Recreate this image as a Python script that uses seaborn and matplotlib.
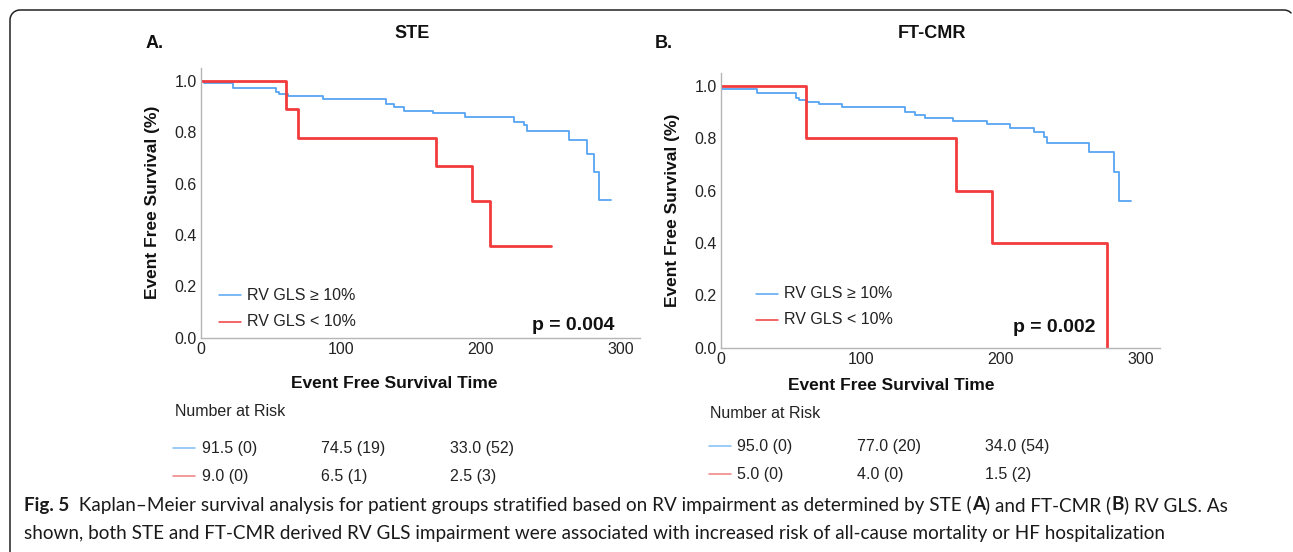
import numpy as np
import pandas as pd
import matplotlib
matplotlib.use("Agg")
import matplotlib.pyplot as plt
import seaborn as sns
from matplotlib.lines import Line2D

### Kaplan-Meier step data

# Panel A (STE)
ste_hi_time = [0, 2, 23, 54, 56, 62, 87, 132, 138, 145, 166, 189, 224, 231, 233, 263, 276, 281, 285, 293]
ste_hi_surv = [1.0, 0.99, 0.97, 0.955, 0.947, 0.94, 0.927, 0.91, 0.899, 0.883, 0.873, 0.86,
               0.84, 0.827, 0.804, 0.769, 0.713, 0.643, 0.536, 0.536]
ste_lo_time = [0, 61, 69.5, 168, 194, 207, 250]
ste_lo_surv = [1.0, 0.889, 0.778, 0.667, 0.533, 0.356, 0.356]

# Panel B (FT-CMR)
cmr_hi_time = [0, 1, 26, 54, 56, 62, 70, 87, 132, 139, 146, 166, 190, 207, 224, 231, 233, 263, 281, 285, 293]
cmr_hi_surv = [1.0, 0.99, 0.972, 0.955, 0.947, 0.94, 0.931, 0.921, 0.902, 0.889, 0.876, 0.866,
               0.853, 0.838, 0.823, 0.804, 0.783, 0.749, 0.673, 0.561, 0.561]
cmr_lo_time = [0, 61, 168, 194, 276]
cmr_lo_surv = [1.0, 0.8, 0.6, 0.4, 0.0]

group_labels = ["RV GLS \u2265 10%", "RV GLS < 10%"]
p_values = ["p = 0.004", "p = 0.002"]
panel_titles = ["STE", "FT-CMR"]
panel_letters = ["A.", "B."]

risk_ste = [["91.5 (0)", "74.5 (19)", "33.0 (52)"], ["9.0 (0)", "6.5 (1)", "2.5 (3)"]]
risk_cmr = [["95.0 (0)", "77.0 (20)", "34.0 (54)"], ["5.0 (0)", "4.0 (0)", "1.5 (2)"]]

x_ticks = [0, 100, 200, 300]
y_ticks = [0.0, 0.2, 0.4, 0.6, 0.8, 1.0]

BLUE = "#56a5f2"
RED = "#f23b3d"

sns.set_style("white")
plt.rcParams["font.family"] = ["Liberation Sans", "DejaVu Sans"]

W, H = 1293, 552
fig = plt.figure(figsize=(W / 100, H / 100), dpi=100)


def fx(px):
    return px / W


def fy(py):
    return 1 - py / H


def make_df(t, s, name):
    return pd.DataFrame({"time": t, "surv": s, "group": name})


panels = [
    dict(left=201, right=640, y0=337.7, y1=80.7,
         hi=(ste_hi_time, ste_hi_surv), lo=(ste_lo_time, ste_lo_surv),
         risk=risk_ste, title_x=412, letter_x=155, ylab_x=153, xlab_x=394, xlab_y=383,
         leg_x=219, leg_y=(295, 322), p_x=614, p_y=325,
         nar_x=175, nar_y=411, rows_y=(448, 476), line_x=173, cols_x=(202, 321, 450)),
    dict(left=720.7, right=1160, y0=347.7, y1=86,
         hi=(cmr_hi_time, cmr_hi_surv), lo=(cmr_lo_time, cmr_lo_surv),
         risk=risk_cmr, title_x=932, letter_x=664, ylab_x=672, xlab_x=891, xlab_y=385,
         leg_x=756, leg_y=(294, 320), p_x=1095, p_y=327,
         nar_x=710, nar_y=413, rows_y=(446, 474), line_x=709, cols_x=(737, 857, 985)),
]

for i, p in enumerate(panels):
    unit = p["y0"] - p["y1"]
    top = p["y0"] - 1.05 * unit
    ax = fig.add_axes([fx(p["left"]), fy(p["y0"]), fx(p["right"] - p["left"]), (p["y0"] - top) / H])

    df = pd.concat([make_df(*p["hi"], group_labels[0]), make_df(*p["lo"], group_labels[1])])
    sns.lineplot(data=df, x="time", y="surv", hue="group", palette=[BLUE, RED],
                 estimator=None, sort=False, drawstyle="steps-post", ax=ax, legend=False)
    ax.lines[0].set_linewidth(1.3)
    ax.lines[1].set_linewidth(2.0)

    ax.set_xlim(0, 314)
    ax.set_ylim(0, 1.05)
    ax.set_xticks(x_ticks)
    ax.set_yticks(y_ticks)
    ax.set_yticklabels([f"{v:.1f}" for v in y_ticks])
    ax.tick_params(axis="both", length=0, labelsize=11.5, colors="#222222", pad=3)
    ax.set_xlabel("")
    ax.set_ylabel("")
    for side in ["top", "right"]:
        ax.spines[side].set_visible(False)
    for side in ["left", "bottom"]:
        ax.spines[side].set_color("#b5b5b5")
        ax.spines[side].set_linewidth(1.0)

    # legend inside the plot
    for k, col in enumerate([BLUE, RED]):
        ly = p["leg_y"][k]
        fig.add_artist(Line2D([fx(p["leg_x"]), fx(p["leg_x"] + 22)], [fy(ly), fy(ly)],
                              color=col, lw=1.1))
        fig.text(fx(p["leg_x"] + 28), fy(ly), group_labels[k], fontsize=11.5,
                 color="#222222", va="center", ha="left")

    fig.text(fx(p["p_x"]), fy(p["p_y"]), p_values[i], fontsize=14, fontweight="bold",
             color="#111111", ha="right", va="center")

    # titles and labels
    fig.text(fx(p["title_x"]), fy(34), panel_titles[i], fontsize=13, fontweight="bold",
             ha="center", va="center", color="#111111")
    fig.text(fx(p["letter_x"]), fy(44), panel_letters[i], fontsize=13, fontweight="bold",
             ha="center", va="center", color="#111111")
    fig.text(fx(p["ylab_x"]), fy((top + p["y0"]) / 2), "Event Free Survival (%)", fontsize=12.5,
             fontweight="bold", rotation=90, ha="center", va="center", color="#111111")
    fig.text(fx(p["xlab_x"]), fy(p["xlab_y"]), "Event Free Survival Time", fontsize=12.5,
             fontweight="bold", ha="center", va="center", color="#111111")

    # number at risk table
    fig.text(fx(p["nar_x"]), fy(p["nar_y"]), "Number at Risk", fontsize=11.5,
             ha="left", va="center", color="#222222")
    for r, col in enumerate(["#7fbdf6", "#f07f80"]):
        ry = p["rows_y"][r]
        fig.add_artist(Line2D([fx(p["line_x"]), fx(p["line_x"] + 22)], [fy(ry), fy(ry)],
                              color=col, lw=1.1))
        for c, cx in enumerate(p["cols_x"]):
            fig.text(fx(cx), fy(ry), p["risk"][r][c], fontsize=11.5, ha="left",
                     va="center", color="#222222")

# caption with bold runs
cap_font = ["Lato", "DejaVu Sans"]
cap_size = 13.6
line1 = [("Fig. 5", "bold"),
         ("  Kaplan\u2013Meier survival analysis for patient groups stratified based on RV impairment "
          "as determined by STE (", "normal"),
         ("A", "bold"), (") and FT-CMR (", "normal"), ("B", "bold"), (") RV GLS. As", "normal")]
line2 = [("shown, both STE and FT-CMR derived RV GLS impairment were associated with increased "
          "risk of all-cause mortality or HF hospitalization", "normal")]

renderer = fig.canvas.get_renderer()
for runs, py in [(line1, 505), (line2, 533)]:
    x = 24
    for txt, wt in runs:
        t = fig.text(fx(x), fy(py), txt, fontsize=cap_size, fontweight=wt, family=cap_font,
                     ha="left", va="center", color="#1a1a1a")
        bb = t.get_window_extent(renderer=renderer)
        x += bb.width

# rounded frame around the figure
r = 10
ang = np.linspace(np.pi, np.pi / 2, 12)
arc_x = 10 + r + r * np.cos(ang)
arc_y = 10 + r - r * np.sin(ang)
frame_x = np.concatenate([[10], arc_x, [1284]])
frame_y = np.concatenate([[552], arc_y, [10]])
ang2 = np.linspace(np.pi / 2, np.pi / 4, 6)
frame_x = np.concatenate([frame_x, 1284 + r * np.cos(ang2)])
frame_y = np.concatenate([frame_y, 10 + r - r * np.sin(ang2)])
fig.add_artist(Line2D(fx(frame_x), fy(frame_y), color="#222222", lw=1.1))

fig.savefig("out.png", dpi=100)
